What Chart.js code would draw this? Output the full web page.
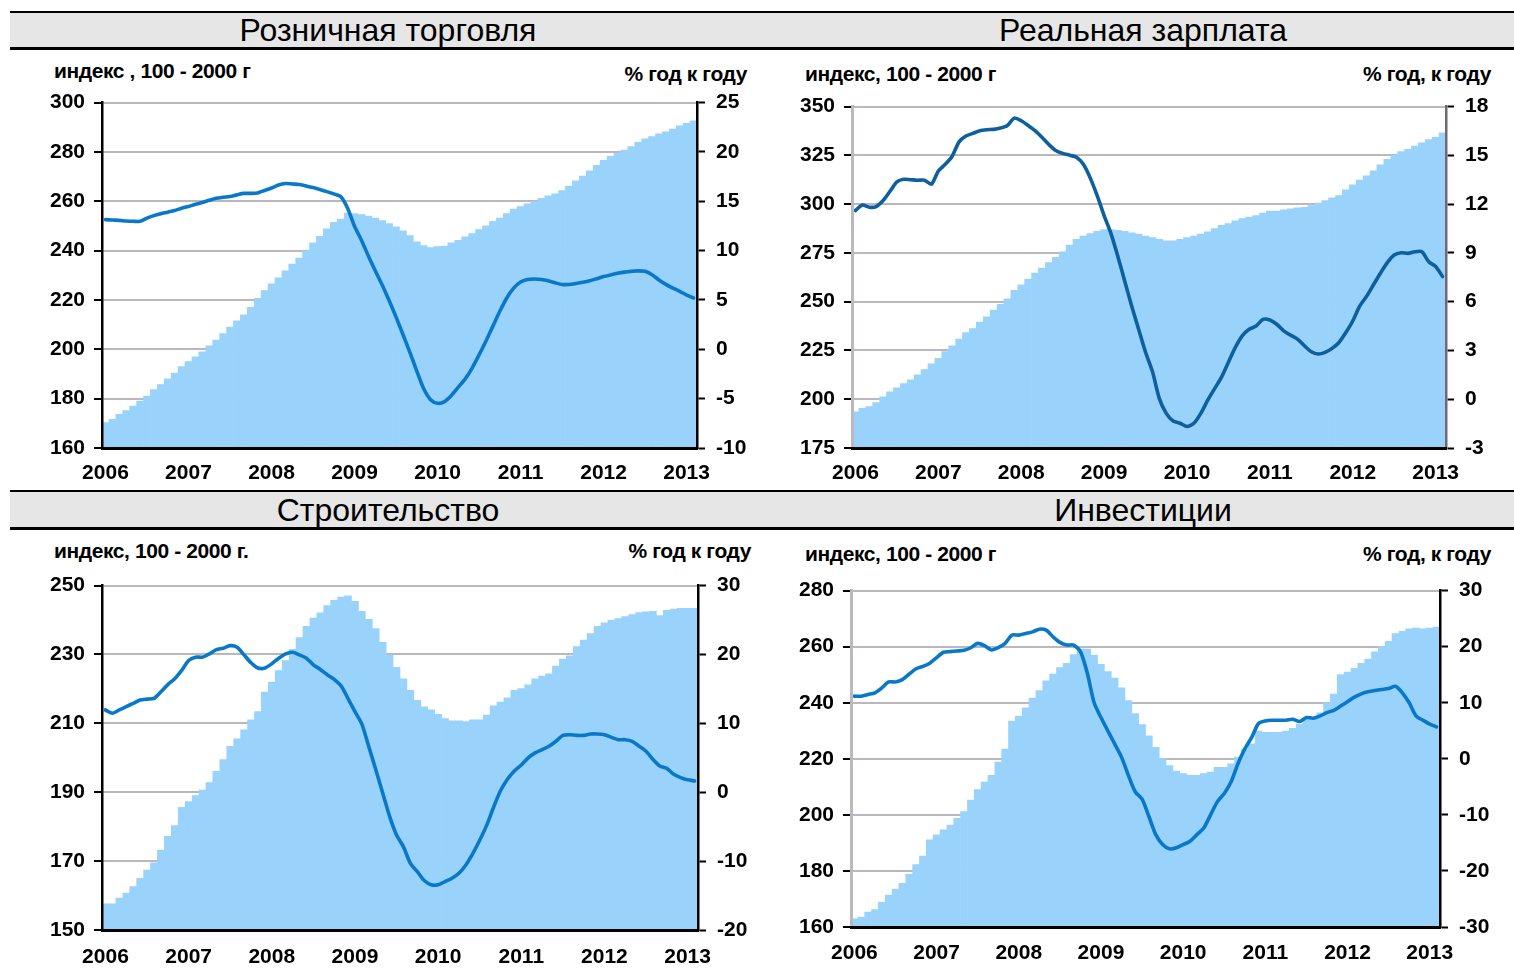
<!DOCTYPE html>
<html>
<head>
<meta charset="utf-8">
<script src="https://cdn.jsdelivr.net/npm/chart.js@4.4.1/dist/chart.umd.min.js"></script>
<style>
  html, body { margin: 0; padding: 0; }
  body {
    width: 1514px; height: 969px; position: relative; overflow: hidden; background: #fff;
    font-family: "Liberation Sans Narrow", "Arial Narrow", "Liberation Sans", Arial, sans-serif;
    color: #000;
  }
  .band {
    position: absolute; left: 10px; width: 1504px; box-sizing: border-box;
    background: #e6e6e6; border-top: 2px solid #000; border-bottom: 3px solid #000;
  }
  .title {
    position: absolute; font-size: 32px; line-height: 34px; white-space: nowrap;
    transform: translateX(-50%);
  }
  .unit {
    position: absolute; font-weight: bold; font-size: 21px; line-height: 22px;
    white-space: nowrap; letter-spacing: -0.4px;
  }
  .unit.r { transform: translateX(-100%); }
  .box { position: absolute; }
  .box canvas { display: block; }
</style>
</head>
<body>
<div class="band" style="top:11px;height:39px"></div>
<div class="band" style="top:490px;height:40px"></div>

<div class="title" style="left:388px;top:13px">Розничная торговля</div>
<div class="title" style="left:1143px;top:13px">Реальная зарплата</div>
<div class="title" style="left:388px;top:493px">Строительство</div>
<div class="title" style="left:1143px;top:493px">Инвестиции</div>

<div class="unit" style="left:54px;top:60px">индекс , 100 - 2000 г</div>
<div class="unit r" style="left:747px;top:63px">% год к году</div>
<div class="unit" style="left:805px;top:63px">индекс, 100 - 2000 г</div>
<div class="unit r" style="left:1491px;top:63px">% год, к году</div>
<div class="unit" style="left:54px;top:540px">индекс, 100 - 2000 г.</div>
<div class="unit r" style="left:751px;top:540px">% год к году</div>
<div class="unit" style="left:805px;top:543px">индекс, 100 - 2000 г</div>
<div class="unit r" style="left:1491px;top:543px">% год, к году</div>

<div class="box" style="left:10px;top:79px;width:750px;height:410px"><canvas id="retail"></canvas></div>
<div class="box" style="left:760px;top:83px;width:754px;height:406px"><canvas id="wages"></canvas></div>
<div class="box" style="left:10px;top:562px;width:750px;height:407px"><canvas id="construction"></canvas></div>
<div class="box" style="left:760px;top:567px;width:754px;height:402px"><canvas id="investment"></canvas></div>

<script>
// Monthly observations, January 2006 through February 2013
const years = ['2006', '2007', '2008', '2009', '2010', '2011', '2012', '2013'];
const monthCount = 86;
const months = [];
years.forEach(y => { for (let m = 1; m <= 12; m++) months.push(y + '-' + String(m).padStart(2, '0')); });
months.length = monthCount;

// Retail trade: index (2000 = 100) and % year on year
const retailIndex = [
  170.3, 171.6, 173.6, 175.2, 177.0, 179.0, 181.0, 183.7, 185.7, 188.0, 190.4, 193.0,
  195.0, 197.0, 199.0, 201.4, 203.7, 206.4, 209.0, 211.5, 214.0, 217.0, 220.7, 223.8,
  226.5, 229.0, 231.8, 234.5, 237.0, 240.2, 243.2, 245.8, 248.8, 251.5, 252.8, 255.2,
  255.0, 254.6, 254.0, 253.2, 252.2, 251.0, 249.6, 248.0, 246.1, 243.6, 242.0, 241.2,
  241.6, 241.8, 243.2, 244.2, 245.6, 246.9, 248.5, 250.1, 251.9, 253.2, 255.0, 256.8,
  257.9, 259.0, 259.9, 261.2, 262.2, 263.0, 264.3, 266.2, 268.3, 270.2, 272.3, 274.6,
  276.6, 278.2, 279.5, 280.8, 282.2, 283.9, 285.3, 286.2, 287.3, 288.2, 289.3, 290.6,
  291.6, 292.6
];
const retailYoY = [
  13.14, 13.1, 13.07, 13.0, 12.97, 12.97, 13.3, 13.55, 13.74, 13.9, 14.07, 14.3,
  14.47, 14.7, 14.87, 15.1, 15.3, 15.4, 15.48, 15.65, 15.8, 15.8, 15.85, 16.1,
  16.35, 16.65, 16.8, 16.75, 16.7, 16.55, 16.4, 16.2, 15.98, 15.75, 15.48, 14.3,
  12.47, 11.06, 9.46, 7.96, 6.52, 4.94, 3.27, 1.5, -0.3, -2.2, -4.0, -5.1,
  -5.47, -5.3, -4.67, -3.83, -3.0, -1.9, -0.57, 0.85, 2.35, 3.85, 5.2, 6.2,
  6.82, 7.07, 7.12, 7.07, 6.94, 6.74, 6.57, 6.57, 6.67, 6.79, 6.94, 7.15,
  7.37, 7.54, 7.7, 7.82, 7.9, 7.95, 7.9, 7.56, 7.03, 6.58, 6.2, 5.88,
  5.5, 5.2
];

// Real wages
const wagesIndex = [
  193.6, 195.3, 196.2, 198.3, 201.2, 203.8, 205.8, 208.0, 210.0, 212.5, 215.2, 218.1,
  221.0, 224.4, 227.4, 230.8, 234.2, 236.2, 239.6, 242.3, 245.7, 248.6, 251.5, 255.8,
  258.7, 261.6, 264.7, 267.2, 270.0, 272.8, 275.6, 279.0, 281.9, 283.6, 284.9, 286.1,
  287.0, 287.0, 286.6, 286.1, 285.3, 284.6, 283.6, 282.9, 281.9, 281.2, 281.2, 281.9,
  282.9, 283.6, 284.6, 285.8, 287.5, 289.2, 290.0, 291.4, 292.6, 293.4, 294.2, 295.4,
  296.4, 296.4, 297.1, 297.6, 298.1, 298.4, 299.3, 300.5, 301.8, 303.2, 304.4, 307.3,
  309.9, 312.3, 314.5, 317.1, 320.1, 323.0, 325.2, 326.9, 328.1, 329.7, 331.4, 333.1,
  334.3, 336.5
];
const wagesYoY = [
  11.61, 11.95, 11.81, 11.85, 12.22, 12.79, 13.37, 13.53, 13.5, 13.47, 13.47, 13.23,
  14.04, 14.45, 14.95, 15.83, 16.19, 16.35, 16.52, 16.58, 16.6, 16.68, 16.84, 17.29,
  17.13, 16.84, 16.52, 16.11, 15.67, 15.3, 15.12, 15.01, 14.89, 14.45, 13.6, 12.52,
  11.3, 10.19, 8.77, 7.24, 5.72, 4.3, 2.89, 1.7, 0.04, -0.87, -1.34, -1.48,
  -1.68, -1.48, -0.87, -0.06, 0.65, 1.36, 2.28, 3.19, 3.9, 4.3, 4.5, 4.91,
  4.87, 4.61, 4.2, 3.94, 3.7, 3.29, 2.92, 2.78, 2.88, 3.13, 3.49, 4.1,
  4.81, 5.72, 6.33, 7.04, 7.75, 8.4, 8.87, 9.01, 8.97, 9.07, 9.07, 8.46,
  8.16, 7.55
];

// Construction
const constructionIndex = [
  157.6, 157.6, 159.3, 160.7, 162.6, 165.0, 167.4, 169.5, 173.2, 177.2, 180.3, 185.6,
  187.3, 189.0, 190.6, 192.8, 196.1, 199.5, 203.3, 205.5, 208.1, 211.0, 213.4, 219.1,
  222.0, 225.3, 228.2, 231.5, 234.9, 238.2, 240.6, 242.1, 244.2, 245.7, 246.7, 247.0,
  245.4, 242.5, 240.2, 237.5, 233.5, 229.8, 226.3, 222.9, 219.6, 216.7, 214.8, 213.9,
  212.6, 211.4, 210.7, 210.7, 210.5, 211.0, 211.0, 212.4, 215.1, 216.2, 217.4, 219.6,
  220.1, 221.2, 222.9, 223.7, 224.4, 226.6, 228.7, 229.6, 232.3, 234.2, 236.1, 238.2,
  239.2, 240.0, 240.4, 241.0, 241.6, 242.2, 242.4, 242.5, 241.3, 242.8, 243.2, 243.4,
  243.4, 243.4
];
const constructionYoY = [
  11.94, 11.47, 11.94, 12.43, 12.9, 13.38, 13.52, 13.62, 14.58, 15.63, 16.49, 17.69,
  19.12, 19.61, 19.61, 20.09, 20.7, 20.9, 21.28, 21.05, 19.94, 18.79, 18.03, 18.03,
  18.65, 19.46, 20.09, 20.33, 19.94, 19.46, 18.5, 17.83, 17.07, 16.39, 15.44, 13.6,
  11.7, 9.9, 6.6, 3.3, -0.1, -3.5, -6.2, -7.93, -10.33, -11.52, -12.82, -13.43,
  -13.43, -12.96, -12.49, -11.77, -10.56, -8.9, -6.97, -4.81, -2.18, 0.21, 1.88, 3.09,
  3.95, 5.0, 5.72, 6.19, 6.68, 7.4, 8.26, 8.35, 8.26, 8.26, 8.45, 8.45,
  8.35, 7.97, 7.63, 7.63, 7.4, 6.68, 5.96, 4.76, 3.8, 3.46, 2.6, 2.13,
  1.8, 1.65
];

// Fixed investment
const investmentIndex = [
  162.9, 163.5, 165.3, 166.2, 168.8, 171.4, 173.5, 175.6, 178.8, 182.3, 185.3, 191.1,
  192.9, 194.7, 196.4, 198.8, 201.2, 205.3, 209.0, 211.7, 214.1, 218.8, 223.5, 233.5,
  235.2, 238.2, 241.7, 244.3, 247.8, 250.2, 252.5, 254.1, 257.2, 259.1, 259.1, 257.0,
  253.7, 251.1, 248.8, 245.3, 240.8, 236.1, 232.2, 228.2, 224.1, 220.0, 217.6, 215.6,
  214.7, 214.1, 214.1, 214.7, 215.3, 217.0, 217.0, 218.2, 220.6, 223.5, 225.3, 229.9,
  229.4, 229.4, 229.4, 229.9, 230.9, 232.3, 234.1, 234.7, 236.4, 240.0, 243.1, 250.0,
  250.9, 252.3, 254.1, 255.6, 258.2, 259.9, 261.9, 264.7, 265.5, 266.4, 266.6, 266.4,
  266.6, 267.0
];
const investmentYoY = [
  11.17, 11.17, 11.47, 11.77, 12.65, 13.71, 13.71, 14.12, 15.12, 16.06, 16.47, 17.06,
  18.05, 19.0, 19.11, 19.23, 19.35, 19.81, 20.59, 20.17, 19.41, 19.81, 20.59, 22.06,
  22.06, 22.36, 22.64, 23.12, 22.94, 21.76, 20.77, 20.29, 20.29, 19.11, 15.3, 10.0,
  7.36, 4.99, 2.65, 0.3, -2.95, -5.88, -7.2, -10.29, -13.53, -15.3, -16.06, -15.88,
  -15.3, -14.7, -13.53, -12.35, -10.0, -7.64, -6.18, -4.11, -0.88, 1.76, 3.83, 6.3,
  6.76, 6.88, 6.88, 6.88, 7.06, 6.65, 7.36, 7.24, 7.65, 8.24, 8.65, 9.41,
  10.18, 10.99, 11.59, 11.94, 12.17, 12.35, 12.53, 12.94, 11.77, 10.0, 7.65, 6.88,
  6.18, 5.7
];

const BAR_BLUE = '#99d3fc';
const GRID_GREY = '#bcb6bf';

Chart.defaults.font.family = '"Liberation Sans Narrow", "Arial Narrow", "Liberation Sans", Arial, sans-serif';
Chart.defaults.font.size = 21;
Chart.defaults.font.weight = 'bold';
Chart.defaults.color = '#000';
Chart.defaults.animation = false;

function panel(id, p) {
  new Chart(document.getElementById(id), {
    data: {
      labels: months,
      datasets: [
        {
          type: 'line', data: p.yoy, yAxisID: 'y1', order: 0,
          borderColor: p.lineColor, borderWidth: 3.6, pointRadius: 0, tension: 0.25,
          borderCapStyle: 'round', borderJoinStyle: 'round'
        },
        {
          type: 'bar', data: p.index, yAxisID: 'y', order: 1,
          backgroundColor: BAR_BLUE, borderWidth: 0,
          categoryPercentage: 1.0, barPercentage: 1.0
        }
      ]
    },
    options: {
      responsive: true, maintainAspectRatio: false,
      layout: { padding: { top: p.padTop, left: 0, right: 0, bottom: 0 } },
      plugins: { legend: { display: false }, tooltip: { enabled: false } },
      scales: {
        x: {
          type: 'category', offset: true,
          grid: { display: false, drawTicks: false },
          border: { display: true, color: '#000', width: 3, z: 2 },
          ticks: {
            autoSkip: false, maxRotation: 0, padding: p.xPad,
            callback(value) {
              const lbl = this.getLabelForValue(value);
              return lbl.endsWith('-01') ? lbl.slice(0, 4) : '';
            }
          },
          afterFit(s) { s.height = p.xHeight; }
        },
        y: {
          position: 'left', min: p.yMin, max: p.yMax,
          grid: { color: GRID_GREY, lineWidth: 2, tickColor: '#000', tickWidth: 2, tickLength: 8 },
          border: { display: true, color: p.leftBorder, width: p.leftBorderWidth, z: 1 },
          ticks: { stepSize: p.yStep, padding: 9 },
          afterFit(s) { s.width = p.leftWidth; }
        },
        y1: {
          position: 'right', min: p.rMin, max: p.rMax,
          grid: { drawOnChartArea: false, tickColor: '#000', tickWidth: 2, tickLength: 8 },
          border: { display: true, color: p.rightBorder, width: 2.5, z: 1 },
          ticks: { stepSize: p.rStep, padding: 11 },
          afterFit(s) { s.width = p.rightWidth; }
        }
      }
    }
  });
}

panel('retail', {
  index: retailIndex, yoy: retailYoY, lineColor: '#0a78c8',
  yMin: 160, yMax: 300, yStep: 20, rMin: -10, rMax: 25, rStep: 5,
  leftWidth: 92, rightWidth: 63, padTop: 20, xHeight: 41, xPad: 13,
  leftBorder: '#000', leftBorderWidth: 2.5, rightBorder: '#000'
});
panel('wages', {
  index: wagesIndex, yoy: wagesYoY, lineColor: '#0e5f9e',
  yMin: 175, yMax: 350, yStep: 25, rMin: -3, rMax: 18, rStep: 3,
  leftWidth: 92, rightWidth: 68, padTop: 20, xHeight: 41, xPad: 13,
  leftBorder: '#bdb8c0', leftBorderWidth: 3, rightBorder: '#6e6a70'
});
panel('construction', {
  index: constructionIndex, yoy: constructionYoY, lineColor: '#0a78c8',
  yMin: 150, yMax: 250, yStep: 20, rMin: -20, rMax: 30, rStep: 10,
  leftWidth: 92, rightWidth: 62, padTop: 20, xHeight: 39, xPad: 15,
  leftBorder: '#000', leftBorderWidth: 2.5, rightBorder: '#000'
});
panel('investment', {
  index: investmentIndex, yoy: investmentYoY, lineColor: '#0a78c8',
  yMin: 160, yMax: 280, yStep: 20, rMin: -30, rMax: 30, rStep: 10,
  leftWidth: 91, rightWidth: 74, padTop: 20, xHeight: 42, xPad: 14,
  leftBorder: '#bdb8c0', leftBorderWidth: 3, rightBorder: '#000'
});
</script>
</body>
</html>
